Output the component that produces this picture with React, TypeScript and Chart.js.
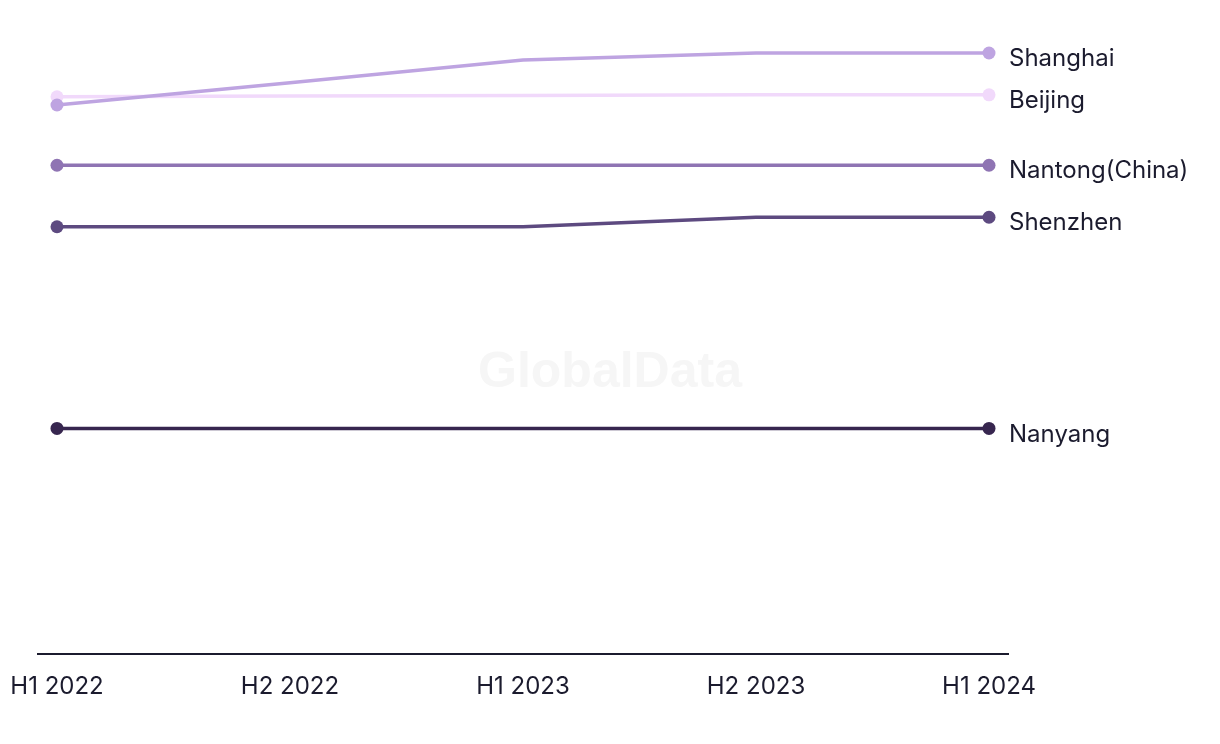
import React, { useEffect, useRef } from "react";
import { Chart, registerables } from "chart.js";

Chart.register(...registerables);

const periods = ["H1 2022", "H2 2022", "H1 2023", "H2 2023", "H1 2024"];
const seriesNames = ["Shanghai", "Beijing", "Nantong(China)", "Shenzhen", "Nanyang"];
const shanghai = [86.6, 90.1, 93.7, 94.8, 94.8];
const beijing = [87.9, 88.0, 88.1, 88.2, 88.2];
const nantong = [77.1, 77.1, 77.1, 77.1, 77.1];
const shenzhen = [67.4, 67.4, 67.4, 68.9, 68.9];
const nanyang = [35.6, 35.6, 35.6, 35.6, 35.6];
const seriesColors = ["#bea4e1", "#f1d9fb", "#8f74b3", "#5d4a80", "#37264f"];

const FONT = "Inter, 'Liberation Sans', Arial, sans-serif";
const TEXT = "#1b1b2e";

const endLabels = {
  id: "endLabels",
  afterDatasetsDraw(chart: any) {
    const ctx = chart.ctx;
    ctx.save();
    ctx.font = `24px ${FONT}`;
    ctx.fillStyle = TEXT;
    ctx.textBaseline = "middle";
    ctx.textAlign = "left";
    chart.data.datasets.forEach((ds: any, i: number) => {
      const meta = chart.getDatasetMeta(i);
      const pt = meta.data[meta.data.length - 1];
      if (pt) ctx.fillText(ds.label, pt.x + 20, pt.y + 6);
    });
    ctx.restore();
  },
};

const watermark = {
  id: "watermark",
  beforeDatasetsDraw(chart: any) {
    const ctx = chart.ctx;
    ctx.save();
    ctx.font = `bold 50px 'Liberation Sans', Arial, sans-serif`;
    ctx.fillStyle = "#f6f6f6";
    ctx.textAlign = "center";
    ctx.textBaseline = "middle";
    ctx.fillText("GlobalData", 610, 373);
    ctx.restore();
  },
};

export default function App() {
  const ref = useRef<HTMLCanvasElement>(null);
  useEffect(() => {
    if (!ref.current) return;
    const all = [shanghai, beijing, nantong, shenzhen, nanyang];
    const chart = new Chart(ref.current, {
      type: "line",
      data: {
        datasets: all.map((vals, i) => ({
          label: seriesNames[i],
          data: vals.map((v, j) => ({ x: j, y: v })),
          borderColor: seriesColors[i],
          backgroundColor: seriesColors[i],
          pointBackgroundColor: seriesColors[i],
          borderWidth: 3.5,
          pointRadius: vals.map((_, j) => (j === 0 || j === vals.length - 1 ? 6.5 : 0)),
          pointBorderWidth: 0,
          pointHoverRadius: 0,
          tension: 0,
          fill: false,
        })),
      },
      options: {
        responsive: false,
        animation: false,
        layout: { padding: { top: 20, left: 38, right: 212, bottom: 25 } },
        plugins: { legend: { display: false }, tooltip: { enabled: false } },
        scales: {
          x: {
            type: "linear",
            min: -0.0815,
            max: 4.0815,
            afterBuildTicks: (scale: any) => {
              scale.ticks = periods.map((_, i) => ({ value: i }));
            },
            afterFit: (scale: any) => {
              scale.paddingLeft = 0;
              scale.paddingRight = 0;
            },
            grid: { display: false, drawTicks: false },
            border: { display: true, color: TEXT, width: 2 },
            ticks: {
              padding: 18,
              autoSkip: false,
              maxRotation: 0,
              color: TEXT,
              font: { family: FONT, size: 24 },
              callback: (v: any) => periods[Math.round(Number(v))] ?? "",
            },
          },
          y: {
            display: false,
            min: 0,
            max: 100,
          },
        },
      },
      plugins: [watermark, endLabels],
    });
    return () => chart.destroy();
  }, []);
  return (
    <div style={{ position: "fixed", left: 0, top: 0, width: 1220, height: 744, background: "#fff" }}>
      <canvas ref={ref} width={1220} height={744} />
    </div>
  );
}
